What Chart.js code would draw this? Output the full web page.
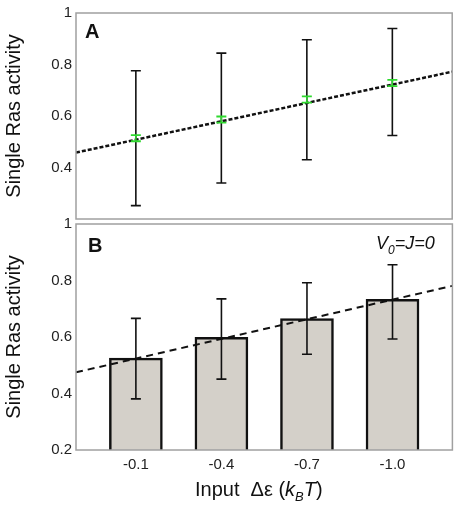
<!DOCTYPE html>
<html>
<head>
<meta charset="utf-8">
<script src="https://cdn.jsdelivr.net/npm/chart.js@4"></script>
<style>
  html, body { margin:0; padding:0; background:#fff; }
  #wrap { position:relative; width:459px; height:506px; overflow:hidden; }
  canvas { position:absolute; left:0; }
</style>
</head>
<body>
<div id="wrap">
  <canvas id="cA" width="459" height="232" style="top:0px"></canvas>
  <canvas id="cB" width="459" height="298" style="top:208px"></canvas>
</div>
<script>
// ---------- data ----------
const categories = ['-0.1', '-0.4', '-0.7', '-1.0'];
const xPos = [1, 2, 3, 4];

// Panel A
const meanA = [0.514, 0.586, 0.664, 0.728];
const lowA  = [0.252, 0.340, 0.430, 0.524];
const highA = [0.776, 0.844, 0.896, 0.940];
const semA  = [0.012, 0.012, 0.012, 0.012];
const fitA  = [0.458, 0.772];          // dashed fit at x-range ends
const yTicksA = [0.4, 0.6, 0.8, 1.0];

// Panel B
const meanB = [0.525, 0.599, 0.665, 0.733];
const lowB  = [0.381, 0.451, 0.539, 0.593];
const highB = [0.666, 0.735, 0.792, 0.856];
const fitB  = [0.475, 0.781];
const yTicksB = [0.2, 0.4, 0.6, 0.8, 1.0];

const xRange = [0.3, 4.7];

// ---------- helpers ----------
const FONT = "'Liberation Sans', Arial, sans-serif";
function errSeries(xs, lo, hi) {
  const d = [];
  xs.forEach((x, i) => { d.push({x, y: lo[i]}, {x, y: hi[i]}, {x, y: null}); });
  return d;
}
function fitSeries(ends) {
  return [{x: xRange[0], y: ends[0]}, {x: xRange[1], y: ends[1]}];
}
function fmt(v) { return Math.abs(v - 1) < 1e-9 ? '1' : v.toFixed(1); }

const framePlugin = {
  id: 'frame',
  afterDatasetsDraw(chart) {
    const {ctx, chartArea: a} = chart;
    ctx.save();
    ctx.strokeStyle = '#a0a0a0';
    ctx.lineWidth = 1.5;
    ctx.strokeRect(a.left, a.top, a.right - a.left, a.bottom - a.top);
    ctx.restore();
  }
};

function drawSegments(ctx, x, y, segs) {
  segs.forEach(s => {
    ctx.font = s.font;
    ctx.fillText(s.t, x, y + (s.dy || 0));
    x += ctx.measureText(s.t).width;
  });
}

const textA = {
  id: 'textA',
  afterDraw(chart) {
    const ctx = chart.ctx;
    ctx.save();
    ctx.fillStyle = '#111';
    ctx.textBaseline = 'alphabetic';
    ctx.font = 'bold 20px ' + FONT;
    ctx.fillText('A', 85, 38);
    ctx.restore();
  }
};
const textB = {
  id: 'textB',
  afterDraw(chart) {
    const ctx = chart.ctx;
    const off = 208;
    ctx.save();
    ctx.fillStyle = '#111';
    ctx.textBaseline = 'alphabetic';
    ctx.font = 'bold 20px ' + FONT;
    ctx.fillText('B', 88, 252 - off);
    drawSegments(ctx, 376, 249 - off, [
      {t: 'V', font: 'italic 18px ' + FONT},
      {t: '0', font: 'italic 12px ' + FONT, dy: 5},
      {t: '=J=0', font: 'italic 18px ' + FONT}
    ]);
    drawSegments(ctx, 195, 496 - off, [
      {t: 'Input  \u0394\u03b5 (', font: '20px ' + FONT},
      {t: 'k', font: 'italic 20px ' + FONT},
      {t: 'B', font: 'italic 13px ' + FONT, dy: 5},
      {t: 'T', font: 'italic 20px ' + FONT},
      {t: ')', font: '20px ' + FONT}
    ]);
    ctx.restore();
  }
};

function yScale(ticksArr) {
  return {
    type: 'linear', min: 0.2, max: 1.0,
    afterFit(s) { s.width = 76; },
    afterBuildTicks(s) { s.ticks = ticksArr.map(v => ({value: v})); },
    grid: { display: false, drawTicks: false },
    border: { display: false },
    ticks: { padding: 4, color: '#222', font: { family: FONT, size: 15 }, callback: v => fmt(v) },
    title: { display: true, text: 'Single Ras activity', color: '#111',
             font: { family: FONT, size: 20 }, padding: { top: 2, bottom: 0 } }
  };
}

Chart.defaults.animation = false;

// ---------- Panel A ----------
new Chart(document.getElementById('cA'), {
  type: 'line',
  data: {
    datasets: [
      { label: 'semA', data: errSeries(xPos, meanA.map((m, i) => m - semA[i]), meanA.map((m, i) => m + semA[i])),
        borderColor: '#2fd92f', borderWidth: 1.5, spanGaps: false,
        pointStyle: 'line', pointRadius: 5, pointBorderColor: '#2fd92f', pointBorderWidth: 1.8, order: 0 },
      { label: 'fitA', data: fitSeries(fitA), borderColor: '#111', borderWidth: 2.5,
        borderDash: [4, 2], pointRadius: 0, order: 1 },
      { label: 'sdA', data: errSeries(xPos, lowA, highA),
        borderColor: '#111', borderWidth: 1.6, spanGaps: false,
        pointStyle: 'line', pointRadius: 5, pointBorderColor: '#111', pointBorderWidth: 1.6, order: 2 }
    ]
  },
  options: {
    responsive: false,
    layout: { padding: { left: 0, right: 6, top: 10, bottom: 8 } },
    plugins: { legend: { display: false }, tooltip: { enabled: false } },
    scales: {
      x: { type: 'linear', min: xRange[0], max: xRange[1], display: false },
      y: yScale(yTicksA)
    }
  },
  plugins: [framePlugin, textA]
});

// ---------- Panel B ----------
new Chart(document.getElementById('cB'), {
  data: {
    datasets: [
      { type: 'line', label: 'sdB', data: errSeries(xPos, lowB, highB),
        borderColor: '#111', borderWidth: 1.6, spanGaps: false,
        pointStyle: 'line', pointRadius: 5, pointBorderColor: '#111', pointBorderWidth: 1.6, order: 0 },
      { type: 'line', label: 'fitB', data: fitSeries(fitB), borderColor: '#111', borderWidth: 2,
        borderDash: [7, 5], pointRadius: 0, order: 1 },
      { type: 'bar', label: 'meanB', data: xPos.map((x, i) => ({x, y: meanB[i]})),
        backgroundColor: '#d4d0c9', borderColor: '#111', borderWidth: 2.5,
        borderSkipped: 'start', barThickness: 53, order: 2 }
    ]
  },
  options: {
    responsive: false,
    layout: { padding: { left: 0, right: 6, top: 16, bottom: 0 } },
    plugins: { legend: { display: false }, tooltip: { enabled: false } },
    scales: {
      x: {
        type: 'linear', min: xRange[0], max: xRange[1], offset: false,
        afterFit(s) { s.height = 56; },
        afterBuildTicks(s) { s.ticks = xPos.map(v => ({value: v})); },
        grid: { display: false, drawTicks: false },
        border: { display: false },
        ticks: { padding: 6, color: '#222', font: { family: FONT, size: 15 },
                 callback: v => categories[xPos.indexOf(v)] }
      },
      y: yScale(yTicksB)
    }
  },
  plugins: [framePlugin, textB]
});
</script>
</body>
</html>
